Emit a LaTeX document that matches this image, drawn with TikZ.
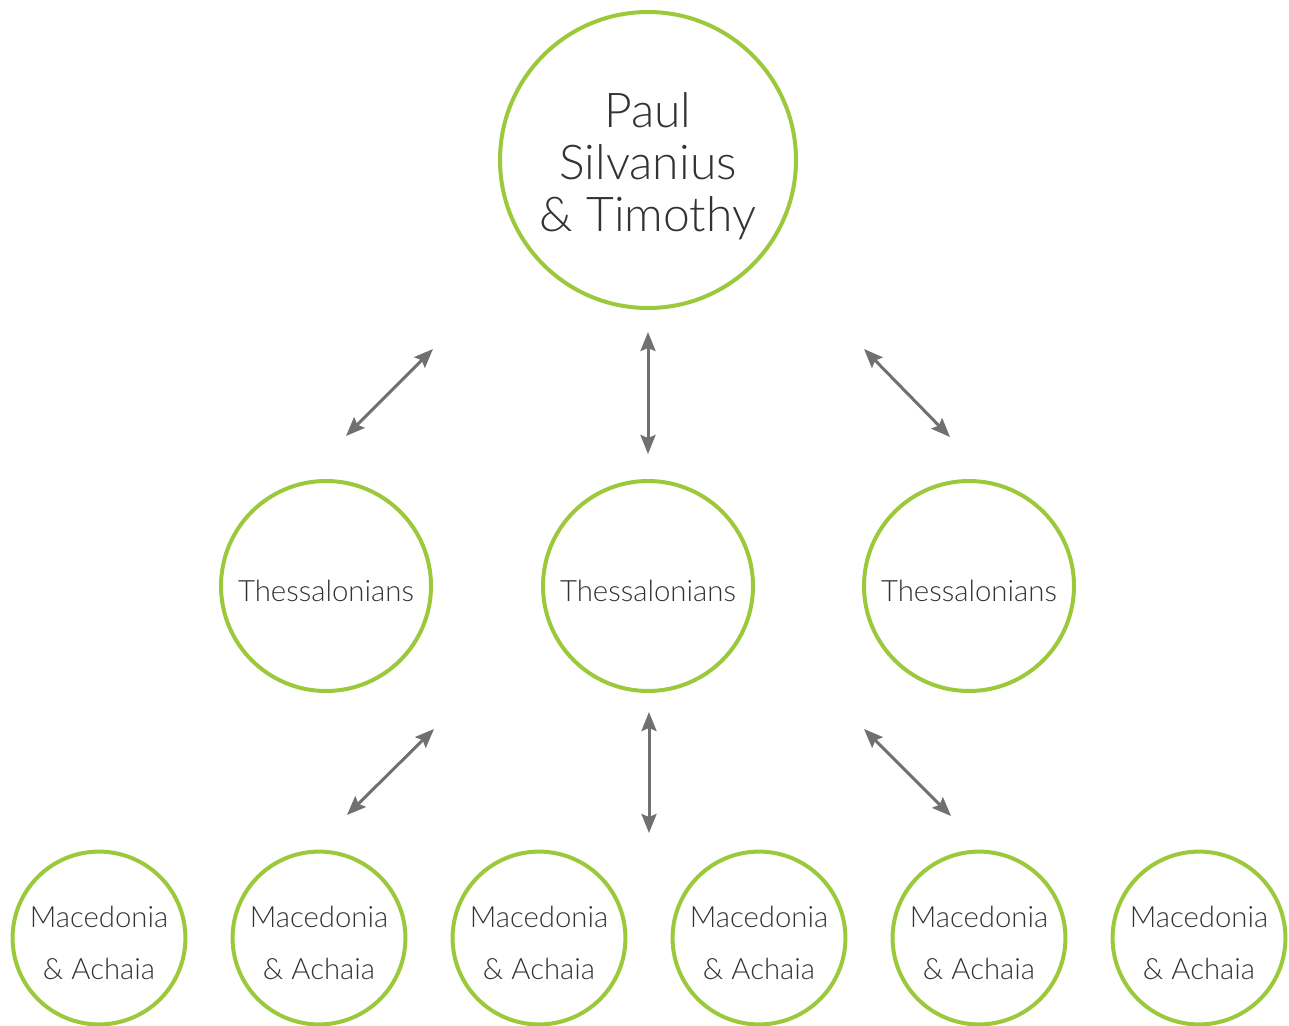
\documentclass[tikz,border=0pt]{standalone}
\usepackage{fontspec}
\setmainfont{Lato Light}
\usetikzlibrary{arrows.meta}
\definecolor{ringgreen}{RGB}{156,201,59}
\definecolor{arrowgray}{RGB}{112,112,112}
\definecolor{txtgray}{RGB}{51,51,51}
\newcommand{\lowtext}[2]{\raisebox{-#1}[\height][\depth]{\begin{tabular}{@{}c@{}}#2\end{tabular}}}
\begin{document}
\begin{tikzpicture}[x=1pt,y=-1pt,
  ring/.style={circle,draw=ringgreen,line width=4pt,inner sep=0pt,text=txtgray,align=center},
  bigring/.style={ring,minimum size=296pt,font=\fontsize{48}{52}\selectfont},
  midring/.style={ring,minimum size=210pt,font=\fontsize{29.4}{34}\selectfont},
  smallring/.style={ring,minimum size=172pt,font=\fontsize{29.3}{52}\selectfont},
  link/.style={draw=arrowgray,line width=3pt,{Stealth[length=19pt,width=15pt,inset=3pt]}-{Stealth[length=19pt,width=15pt,inset=3pt]}}]
\useasboundingbox (0,0) rectangle (1289,1025);
\node[bigring] (paul) at (648,160) {\lowtext{9.5pt}{Paul\\Silvanius\\\& Timothy}};
\node[midring] (t1) at (326,586) {\lowtext{9pt}{Thessalonians}};
\node[midring] (t2) at (648,586) {\lowtext{9pt}{Thessalonians}};
\node[midring] (t3) at (969,586) {\lowtext{9pt}{Thessalonians}};
\foreach \i/\x in {1/99,2/319,3/539,4/759,5/979,6/1199}{
  \node[smallring] (m\i) at (\x,938) {\lowtext{5pt}{Macedonia\\\& Achaia}};
}
\coordinate (a1s) at (346,436); \coordinate (a1e) at (433,349);
\coordinate (a2s) at (648,332); \coordinate (a2e) at (648,454);
\coordinate (a3s) at (864,349); \coordinate (a3e) at (950,437);
\coordinate (b1s) at (347,815); \coordinate (b1e) at (434,729);
\coordinate (b2s) at (649,712); \coordinate (b2e) at (649,833);
\coordinate (b3s) at (864,729); \coordinate (b3e) at (951,816);
\draw[link] (a1s) -- (a1e);
\draw[link] (a2s) -- (a2e);
\draw[link] (a3s) -- (a3e);
\draw[link] (b1s) -- (b1e);
\draw[link] (b2s) -- (b2e);
\draw[link] (b3s) -- (b3e);
\end{tikzpicture}
\end{document}
